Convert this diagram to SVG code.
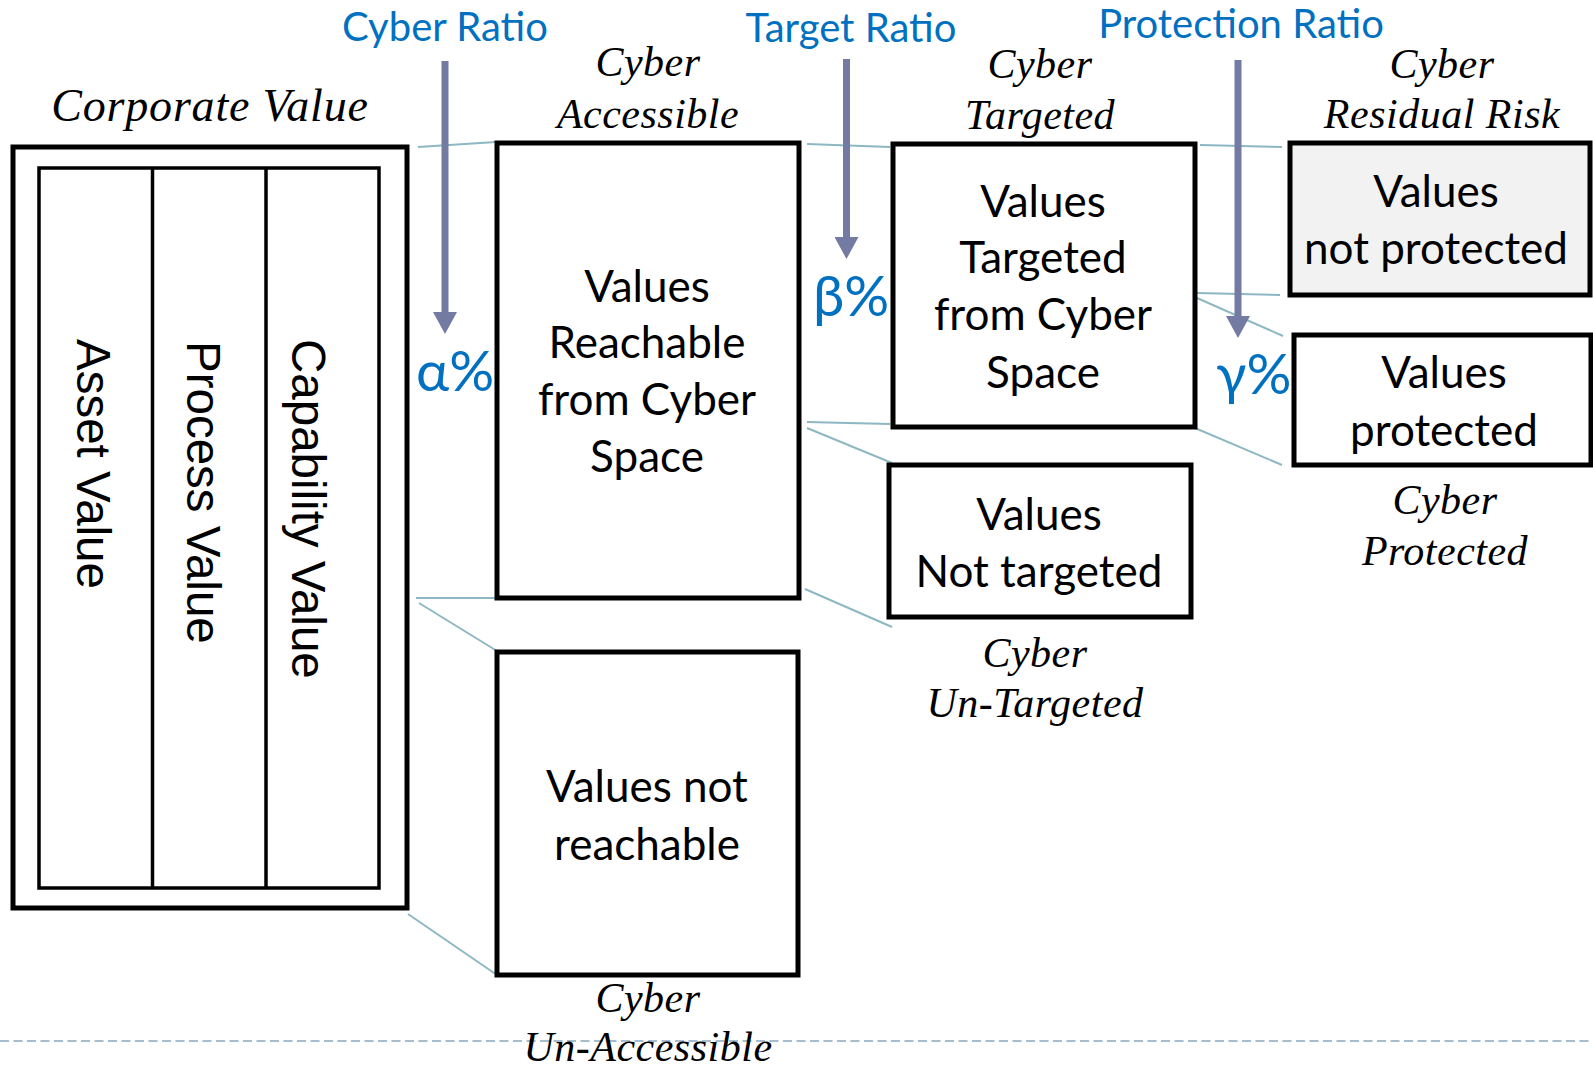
<svg xmlns="http://www.w3.org/2000/svg" width="1593" height="1067" viewBox="0 0 1593 1067">
<style>
.box{fill:#fff;stroke:#000;stroke-width:5}
.gray{fill:#f2f2f2}
.inner{fill:none;stroke:#000;stroke-width:3.5}
.btxt{font-family:Lato,"Noto Sans",sans-serif;font-size:44px;fill:#000;text-anchor:middle}
.rtxt{font-family:"Liberation Sans",Arial,sans-serif;font-size:47.5px;fill:#000}
.lbl{font-family:"Liberation Serif","Times New Roman",serif;font-style:italic;font-size:42px;letter-spacing:0.5px;fill:#000;text-anchor:middle}
.ratio{font-family:Lato,"Noto Sans",sans-serif;font-size:40px;fill:#0070c0;text-anchor:middle}
.greek{font-family:Lato,"Noto Sans",sans-serif;font-size:56px;fill:#0070c0}
.conn{stroke:#8db8c3;stroke-width:2;fill:none}
.arrow{stroke:#737ba3;stroke-width:7;fill:none}
</style>
<defs>
<marker id="ah" markerUnits="userSpaceOnUse" markerWidth="24" markerHeight="24" refX="0" refY="12" orient="auto" viewBox="0 0 22 24">
<path d="M0,0 L22,12 L0,24 z" fill="#737ba3"/>
</marker>
</defs>
<rect width="1593" height="1067" fill="#fff"/>

<line x1="0" y1="1041" x2="1593" y2="1041" stroke="#a6bccf" stroke-width="2" stroke-dasharray="9,4.5"/>

<g id="connectors">
<line class="conn" x1="418" y1="147" x2="496" y2="142"/>
<line class="conn" x1="416" y1="598" x2="497" y2="598"/>
<line class="conn" x1="419" y1="603" x2="497" y2="651"/>
<line class="conn" x1="408" y1="914" x2="497" y2="975"/>
<line class="conn" x1="807" y1="144" x2="890" y2="147"/>
<line class="conn" x1="807" y1="422" x2="890" y2="424"/>
<line class="conn" x1="807" y1="428" x2="892" y2="463"/>
<line class="conn" x1="805" y1="589" x2="892" y2="627"/>
<line class="conn" x1="1200" y1="145" x2="1282" y2="147"/>
<line class="conn" x1="1197" y1="293" x2="1280" y2="295"/>
<line class="conn" x1="1197" y1="298" x2="1283" y2="336"/>
<line class="conn" x1="1195" y1="428" x2="1282" y2="465"/>
</g>

<g id="corporate-value">
<rect class="box" x="13" y="147" width="394" height="761" stroke-width="6"/>
<rect class="inner" x="39" y="168" width="340" height="720"/>
<line x1="152.5" y1="168" x2="152.5" y2="888" stroke="#000" stroke-width="3.5"/>
<line x1="266" y1="168" x2="266" y2="888" stroke="#000" stroke-width="3.5"/>
<text class="rtxt" transform="translate(77,339) rotate(90)">Asset Value</text>
<text class="rtxt" transform="translate(187,341) rotate(90)">Process Value</text>
<text class="rtxt" transform="translate(292,339) rotate(90)">Capability Value</text>
<text class="lbl" x="210" y="121" style="font-size:46px;letter-spacing:0.8px">Corporate Value</text>
</g>

<g id="cyber-accessible">
<rect class="box" x="497" y="143" width="302" height="455"/>
<text class="btxt" x="647" y="302">Values</text>
<text class="btxt" x="647" y="358">Reachable</text>
<text class="btxt" x="647" y="415">from Cyber</text>
<text class="btxt" x="647" y="472">Space</text>
<text class="lbl" x="648" y="76">Cyber</text>
<text class="lbl" x="648" y="128">Accessible</text>
</g>

<g id="cyber-unaccessible">
<rect class="box" x="497" y="652" width="301" height="323"/>
<text class="btxt" x="647" y="802">Values not</text>
<text class="btxt" x="647" y="860">reachable</text>
<text class="lbl" x="648" y="1012">Cyber</text>
<text class="lbl" x="648" y="1061">Un-Accessible</text>
</g>

<g id="cyber-targeted">
<rect class="box" x="893" y="144" width="302" height="283"/>
<text class="btxt" x="1043" y="217">Values</text>
<text class="btxt" x="1043" y="273">Targeted</text>
<text class="btxt" x="1043" y="330">from Cyber</text>
<text class="btxt" x="1043" y="388">Space</text>
<text class="lbl" x="1040" y="78">Cyber</text>
<text class="lbl" x="1040" y="129">Targeted</text>
</g>

<g id="cyber-untargeted">
<rect class="box" x="889" y="465" width="302" height="152"/>
<text class="btxt" x="1039" y="530">Values</text>
<text class="btxt" x="1039" y="587">Not targeted</text>
<text class="lbl" x="1035" y="667">Cyber</text>
<text class="lbl" x="1035" y="717">Un-Targeted</text>
</g>

<g id="cyber-residual-risk">
<rect class="box gray" x="1290" y="143" width="300" height="152"/>
<text class="btxt" x="1436" y="207">Values</text>
<text class="btxt" x="1436" y="264">not protected</text>
<text class="lbl" x="1442" y="78">Cyber</text>
<text class="lbl" x="1442" y="128">Residual Risk</text>
</g>

<g id="cyber-protected">
<rect class="box" x="1294" y="335" width="297" height="130"/>
<text class="btxt" x="1444" y="388">Values</text>
<text class="btxt" x="1444" y="446">protected</text>
<text class="lbl" x="1445" y="514">Cyber</text>
<text class="lbl" x="1445" y="565">Protected</text>
</g>

<g id="cyber-ratio">
<text class="ratio" x="445" y="41">Cyber Ratio</text>
<line class="arrow" x1="445" y1="61" x2="445" y2="312" marker-end="url(#ah)"/>
<text class="greek" x="416" y="391">α%</text>
</g>

<g id="target-ratio">
<text class="ratio" x="851" y="42">Target Ratio</text>
<line class="arrow" x1="846.5" y1="59" x2="846.5" y2="237" marker-end="url(#ah)"/>
<text class="greek" x="813" y="316">β%</text>
</g>

<g id="protection-ratio">
<text class="ratio" x="1241" y="38">Protection Ratio</text>
<line class="arrow" x1="1238" y1="60" x2="1238" y2="316" marker-end="url(#ah)"/>
<text class="greek" x="1216" y="394">γ%</text>
</g>
</svg>
